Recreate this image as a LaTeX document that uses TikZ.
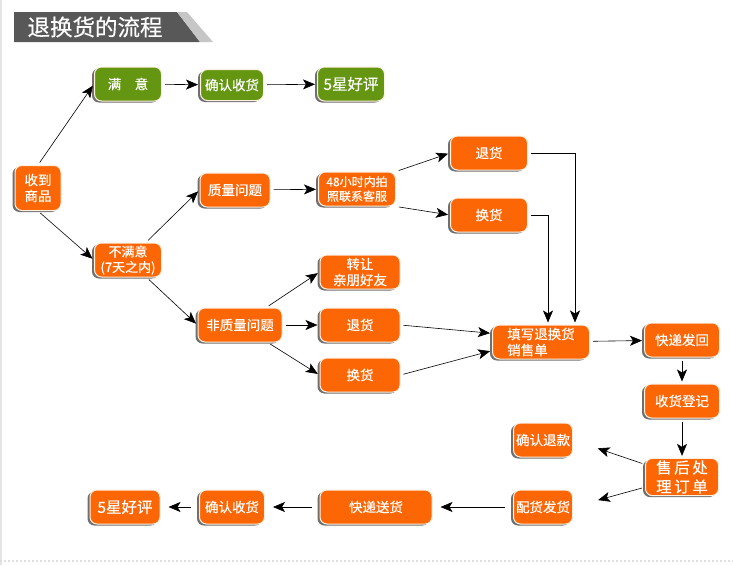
\documentclass[tikz,border=0pt]{standalone}
\usepackage{fontspec}
\newfontfamily\cjk[FakeBold=0.4]{Noto Sans CJK SC}
\usetikzlibrary{arrows.meta, shadows}
\definecolor{orng}{RGB}{252,102,4}
\definecolor{grn}{RGB}{100,150,18}
\definecolor{titlegray}{RGB}{88,88,88}
\tikzset{every picture/.style={x=1pt,y=-1pt,font=\cjk\fontsize{13.5}{16}\selectfont},
  box/.style={rectangle,rounded corners=7pt,fill=orng,text=white,draw=white!88!orange,line width=1pt,
    minimum height=34pt,inner sep=2pt,align=center,
    drop shadow={shadow xshift=-2.5pt,shadow yshift=-1.5pt,fill=black!75,opacity=0.75}},
  gbox/.style={box,fill=grn},
  small/.style={font=\cjk\fontsize{12}{14.5}\selectfont},
  big/.style={font=\cjk\fontsize{15.5}{19}\selectfont},
  arr/.style={-{Stealth[length=12pt,width=10pt,inset=3pt]},semithick,shorten <=3pt,shorten >=2pt}}

\begin{document}
\begin{tikzpicture}
            \fill[white] (0,0) rectangle (733,565);
            \useasboundingbox (0,0) rectangle (733,565);
            \draw[gray!20,line width=1.5pt] (1,0) -- (1,565);
            \draw[gray!25,dotted,line width=2pt] (0,561) -- (733,561);

            % title
            \fill[titlegray] (14,12) -- (177,12) -- (200,42) -- (14,42) -- cycle;
            \fill[gray!45] (177,12) -- (187,12) -- (213,42) -- (200,42) -- cycle;
            \node[font=\cjk\fontsize{22.5}{24}\selectfont,text=white,anchor=west] (title) at (24,27) {退换货的流程};

            \node[box,minimum width=46pt,minimum height=45pt] (recv) at (38,188) {收到\\商品};
            \node[gbox,minimum width=67pt] (ok) at (128,84) {满\quad 意};
            \node[gbox,minimum width=63pt,minimum height=31pt] (okget) at (232,85) {确认收货};
            \node[gbox,big,minimum width=67pt] (okstar) at (351,84) {5星好评};
            \node[box,font=\cjk\fontsize{13}{15.5}\selectfont,minimum width=67pt] (notok) at (128,260) {不满意\\(7天之内)};
            \node[box,minimum width=70pt] (qual) at (235,190) {质量问题};
            \node[box,small,minimum width=77pt] (kefu) at (357,189) {48小时内拍\\照联系客服};
            \node[box,minimum width=77pt] (tui1) at (489,153) {退货};
            \node[box,minimum width=77pt] (huan1) at (489,215) {换货};
            \node[box,minimum width=80pt] (give) at (360,272) {转让\\亲朋好友};
            \node[box,minimum width=84pt] (nonq) at (240,325) {非质量问题};
            \node[box,minimum width=80pt] (tui2) at (360,325) {退货};
            \node[box,minimum width=80pt] (huan2) at (360,375) {换货};
            \node[box,align=left,minimum width=97pt] (form) at (541,342) {填写退换货\\销售单};
            \node[box,minimum width=75pt] (back) at (682,340) {快递发回};
            \node[box,minimum width=75pt] (reg) at (682,401) {收货登记};
            \node[box,minimum width=59pt] (refund) at (543,440) {确认退款};
            \node[box,big,minimum width=73pt] (proc) at (682,477) {售\,后\,处\\理\,订\,单};
            \node[box,minimum width=59pt] (pick) at (543,507) {配货发货};
            \node[box,minimum width=112pt] (ship) at (376,507) {快递送货};
            \node[box,minimum width=65pt] (get2) at (232,507) {确认收货};
            \node[box,big,minimum width=70pt] (star2) at (125,507) {5星好评};

            \foreach \from/\to in {recv.north/ok.west, ok/okget, okget/okstar, recv.south/notok.west,
                notok/qual.west, notok/nonq.west, qual/kefu, kefu.north east/tui1.west,
                kefu.south east/huan1.west, nonq/give.west, nonq/tui2, nonq/huan2.west,
                tui2.east/form.170, huan2.east/form.190, form/back, back/reg, reg/proc}
              \draw[arr] (\from) -- (\to);
            \foreach \from/\to in {proc/refund.east, proc/pick.east}
              \draw[arr,shorten >=26pt] (\from) -- (\to);
            \foreach \from/\to in {pick/ship, ship/get2, get2/star2}
              \draw[arr,shorten <=8pt,shorten >=8pt] (\from) -- (\to);
            \draw[arr] (tui1.east) -| ([xshift=34pt]form.north);
            \draw[arr] (huan1.east) -| ([xshift=7pt]form.north);
        \end{tikzpicture}
\end{document}
